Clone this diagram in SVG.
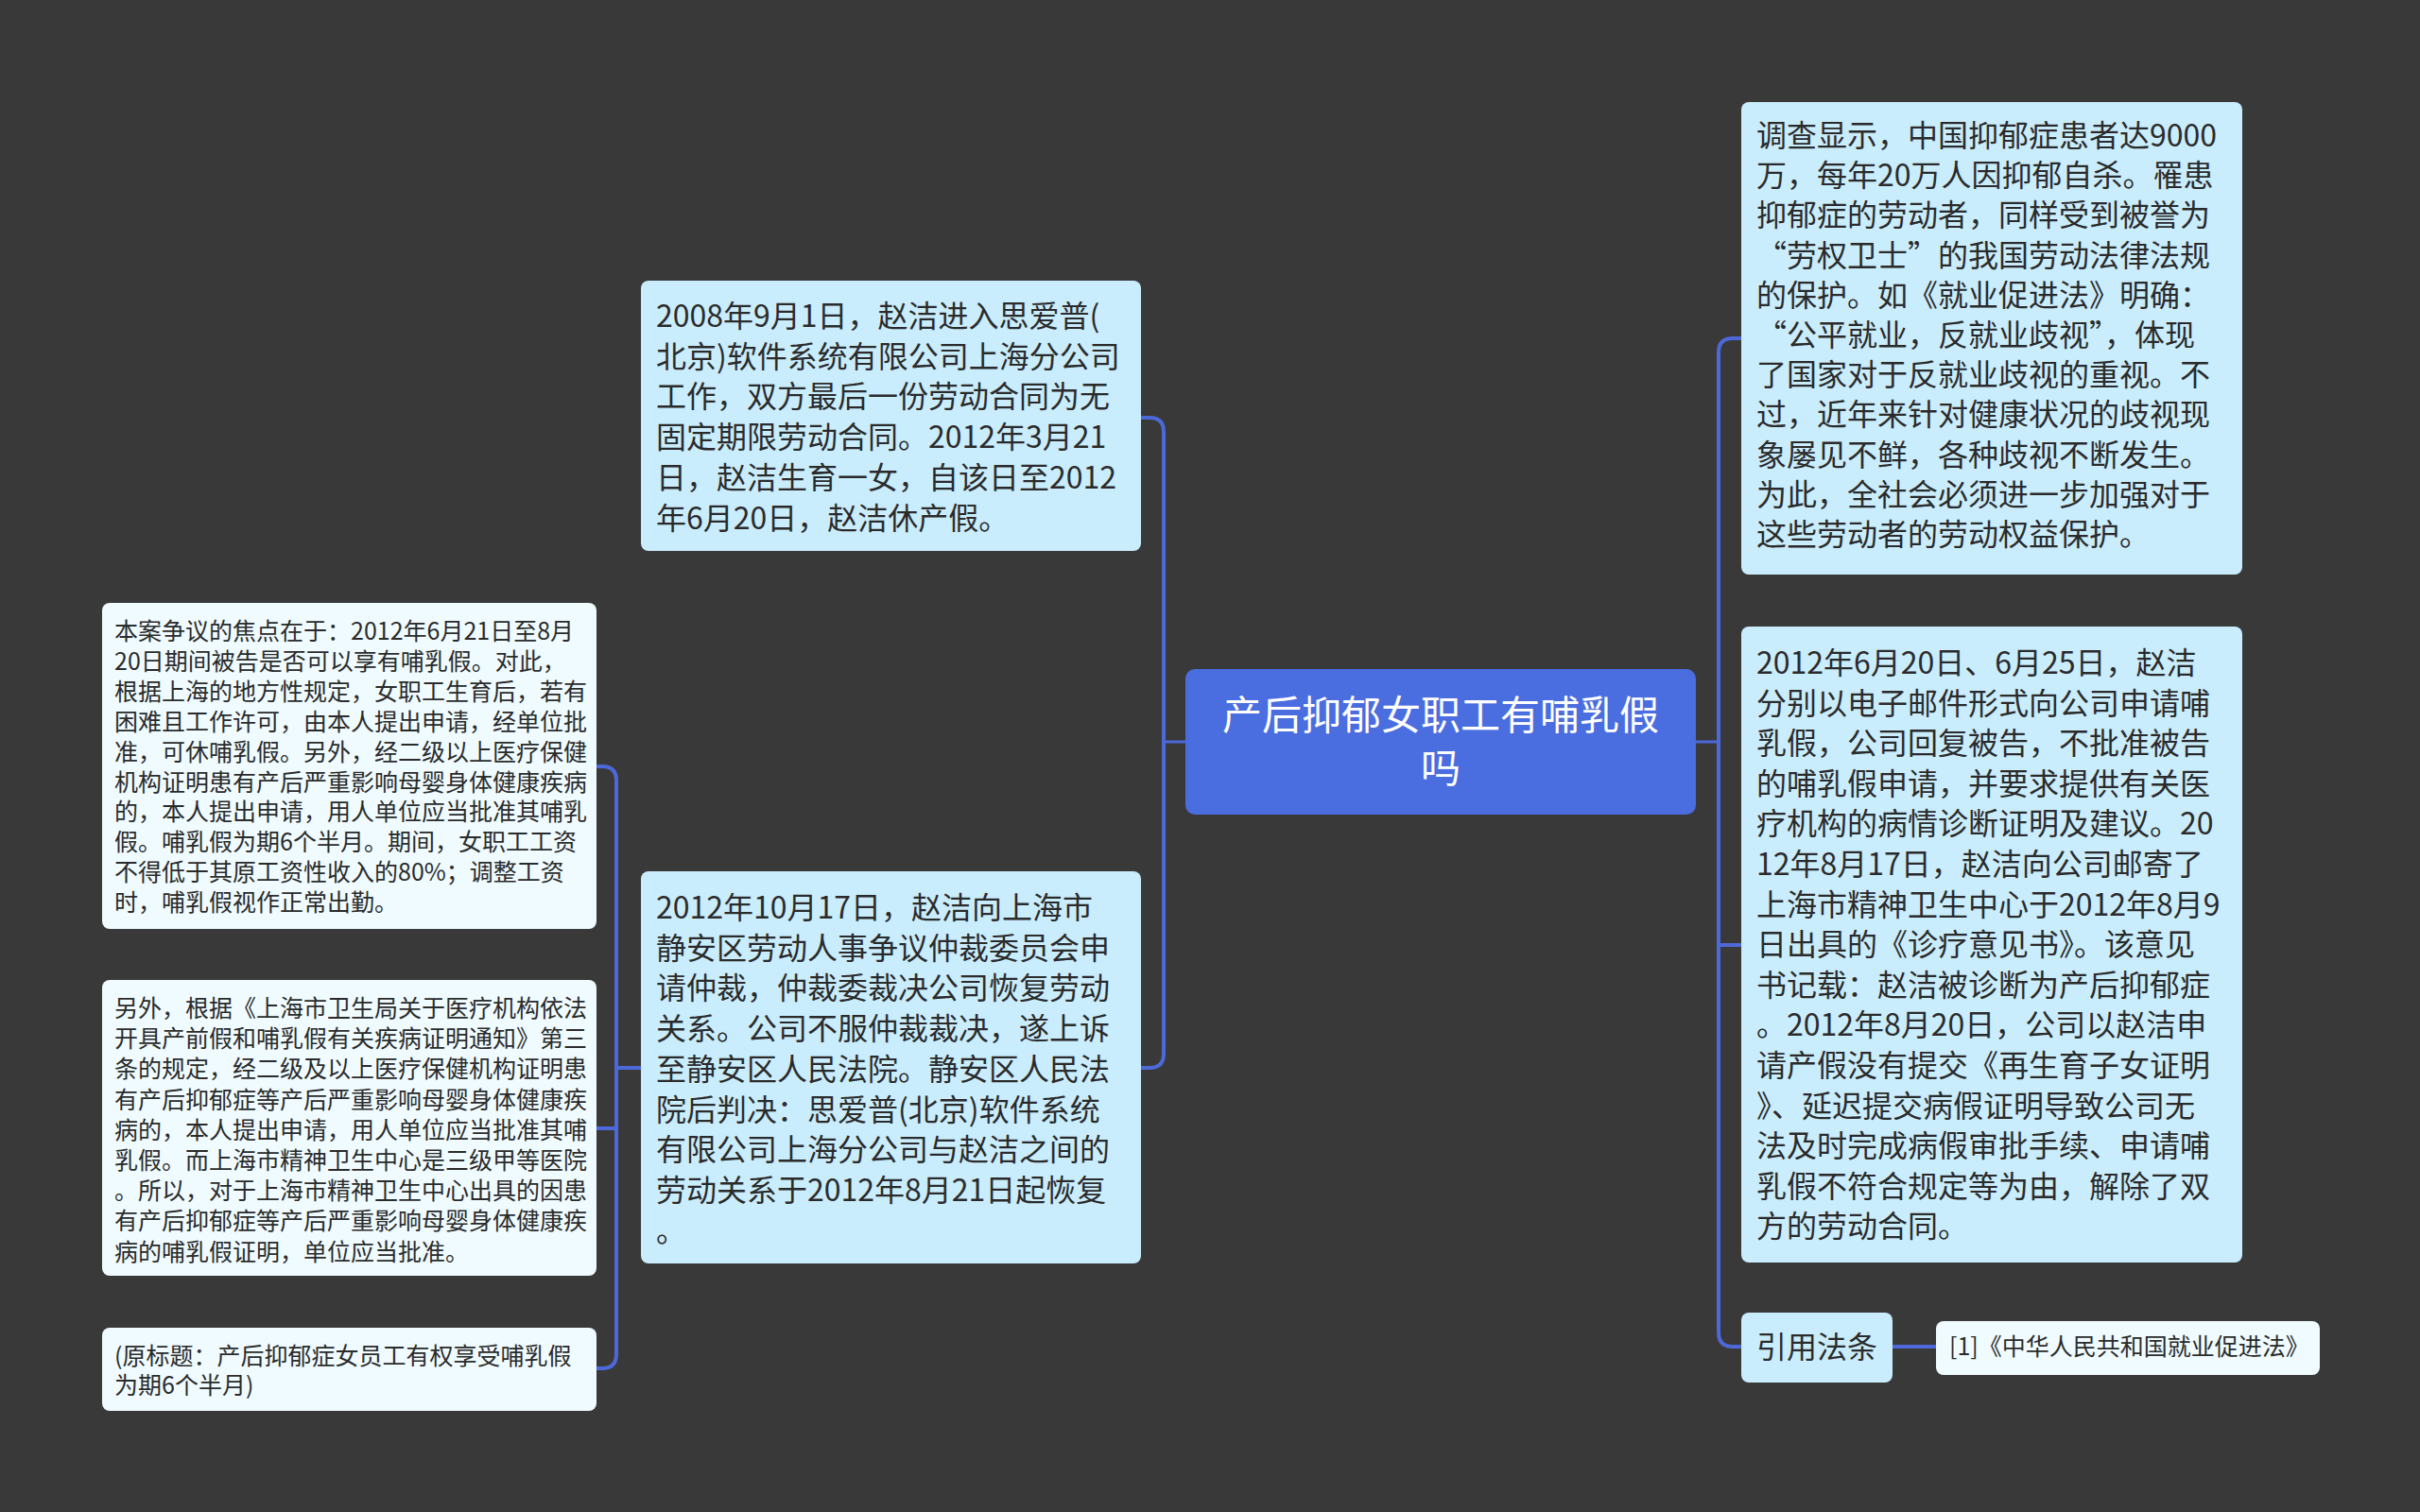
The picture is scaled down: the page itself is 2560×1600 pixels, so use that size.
<svg xmlns="http://www.w3.org/2000/svg" width="2560" height="1600" viewBox="0 0 2560 1600">
<style>
.t{font-family:"Noto Sans CJK SC","Noto Sans",sans-serif;fill:#2b2b2b}
.m{font-size:32px}
.s{font-size:25px}
.box{fill:#c9edfd}
.box2{fill:#effbff}
.conn{fill:none;stroke:#4d68d8;stroke-width:4;stroke-linecap:round}
</style>
<rect x="0" y="0" width="2560" height="1600" fill="#3a3939"/>
<g id="connectors">
<path class="conn" d="M1207,442 H1216 Q1231,442 1231,457 V1115 Q1231,1130 1216,1130 H1207"/>
<path class="conn" d="M1231,785 H1254" style="stroke-width:3"/>
<path class="conn" d="M678,1130 H652"/>
<path class="conn" d="M631,811 H637 Q652,811 652,826 V1433 Q652,1448 637,1448 H631"/>
<path class="conn" d="M631,1194 H652"/>
<path class="conn" d="M1842,358 H1833 Q1818,358 1818,373 V1410 Q1818,1425 1833,1425 H1842"/>
<path class="conn" d="M1818,1000 H1842"/>
<path class="conn" d="M1794,785 H1818" style="stroke-width:3"/>
<path class="conn" d="M2002,1425 H2048"/>
</g>
<g id="center">
<rect x="1254" y="708" width="540" height="154" rx="10" fill="#4a6ddf"/>
<text x="1524" y="772" text-anchor="middle" style="font-family:'Noto Sans CJK SC',sans-serif;font-size:42px;fill:#ffffff">产后抑郁女职工有哺乳假</text>
<text x="1524" y="828" text-anchor="middle" style="font-family:'Noto Sans CJK SC',sans-serif;font-size:42px;fill:#ffffff">吗</text>
</g>
<g id="node-l1">
<rect class="box" x="678" y="297" width="529" height="286" rx="8"/>
<text class="t m" x="694">
<tspan x="694" y="346">2008年9月1日，赵洁进入思爱普(</tspan>
<tspan x="694" y="388.7">北京)软件系统有限公司上海分公司</tspan>
<tspan x="694" y="431.4">工作，双方最后一份劳动合同为无</tspan>
<tspan x="694" y="474.1">固定期限劳动合同。2012年3月21</tspan>
<tspan x="694" y="516.8">日，赵洁生育一女，自该日至2012</tspan>
<tspan x="694" y="559.5">年6月20日，赵洁休产假。</tspan>
</text>
</g>
<g id="node-l2">
<rect class="box" x="678" y="922" width="529" height="415" rx="8"/>
<text class="t m" x="694">
<tspan x="694" y="972">2012年10月17日，赵洁向上海市</tspan>
<tspan x="694" y="1014.7">静安区劳动人事争议仲裁委员会申</tspan>
<tspan x="694" y="1057.4">请仲裁，仲裁委裁决公司恢复劳动</tspan>
<tspan x="694" y="1100.1">关系。公司不服仲裁裁决，遂上诉</tspan>
<tspan x="694" y="1142.8">至静安区人民法院。静安区人民法</tspan>
<tspan x="694" y="1185.5">院后判决：思爱普(北京)软件系统</tspan>
<tspan x="694" y="1228.2">有限公司上海分公司与赵洁之间的</tspan>
<tspan x="694" y="1270.9">劳动关系于2012年8月21日起恢复</tspan>
<tspan x="694" y="1313.6">。</tspan>
</text>
</g>
<g id="node-a">
<rect class="box2" x="108" y="638" width="523" height="345" rx="8"/>
<text class="t s" x="121">
<tspan x="121" y="677">本案争议的焦点在于：2012年6月21日至8月</tspan>
<tspan x="121" y="708.9">20日期间被告是否可以享有哺乳假。对此，</tspan>
<tspan x="121" y="740.8">根据上海的地方性规定，女职工生育后，若有</tspan>
<tspan x="121" y="772.7">困难且工作许可，由本人提出申请，经单位批</tspan>
<tspan x="121" y="804.6">准，可休哺乳假。另外，经二级以上医疗保健</tspan>
<tspan x="121" y="836.5">机构证明患有产后严重影响母婴身体健康疾病</tspan>
<tspan x="121" y="868.4">的，本人提出申请，用人单位应当批准其哺乳</tspan>
<tspan x="121" y="900.3">假。哺乳假为期6个半月。期间，女职工工资</tspan>
<tspan x="121" y="932.2">不得低于其原工资性收入的80%；调整工资</tspan>
<tspan x="121" y="964.1">时，哺乳假视作正常出勤。</tspan>
</text>
</g>
<g id="node-b">
<rect class="box2" x="108" y="1037" width="523" height="313" rx="8"/>
<text class="t s" x="121">
<tspan x="121" y="1076">另外，根据《上海市卫生局关于医疗机构依法</tspan>
<tspan x="121" y="1108.2">开具产前假和哺乳假有关疾病证明通知》第三</tspan>
<tspan x="121" y="1140.4">条的规定，经二级及以上医疗保健机构证明患</tspan>
<tspan x="121" y="1172.6">有产后抑郁症等产后严重影响母婴身体健康疾</tspan>
<tspan x="121" y="1204.8">病的，本人提出申请，用人单位应当批准其哺</tspan>
<tspan x="121" y="1237">乳假。而上海市精神卫生中心是三级甲等医院</tspan>
<tspan x="121" y="1269.2">。所以，对于上海市精神卫生中心出具的因患</tspan>
<tspan x="121" y="1301.4">有产后抑郁症等产后严重影响母婴身体健康疾</tspan>
<tspan x="121" y="1333.6">病的哺乳假证明，单位应当批准。</tspan>
</text>
</g>
<g id="node-c">
<rect class="box2" x="108" y="1405" width="523" height="88" rx="8"/>
<text class="t s" x="121">
<tspan x="121" y="1444">(原标题：产后抑郁症女员工有权享受哺乳假</tspan>
<tspan x="121" y="1475">为期6个半月)</tspan>
</text>
</g>
<g id="node-r1">
<rect class="box" x="1842" y="108" width="530" height="500" rx="8"/>
<text class="t m" x="1858">
<tspan x="1858" y="155">调查显示，中国抑郁症患者达9000</tspan>
<tspan x="1858" y="197.2">万，每年20万人因抑郁自杀。罹患</tspan>
<tspan x="1858" y="239.4">抑郁症的劳动者，同样受到被誉为</tspan>
<tspan x="1858" y="281.6">“劳权卫士”的我国劳动法律法规</tspan>
<tspan x="1858" y="323.8">的保护。如《就业促进法》明确：</tspan>
<tspan x="1858" y="366">“公平就业，反就业歧视”，体现</tspan>
<tspan x="1858" y="408.2">了国家对于反就业歧视的重视。不</tspan>
<tspan x="1858" y="450.4">过，近年来针对健康状况的歧视现</tspan>
<tspan x="1858" y="492.6">象屡见不鲜，各种歧视不断发生。</tspan>
<tspan x="1858" y="534.8">为此，全社会必须进一步加强对于</tspan>
<tspan x="1858" y="577">这些劳动者的劳动权益保护。</tspan>
</text>
</g>
<g id="node-r2">
<rect class="box" x="1842" y="663" width="530" height="673" rx="8"/>
<text class="t m" x="1858">
<tspan x="1858" y="713">2012年6月20日、6月25日，赵洁</tspan>
<tspan x="1858" y="755.6">分别以电子邮件形式向公司申请哺</tspan>
<tspan x="1858" y="798.2">乳假，公司回复被告，不批准被告</tspan>
<tspan x="1858" y="840.8">的哺乳假申请，并要求提供有关医</tspan>
<tspan x="1858" y="883.4">疗机构的病情诊断证明及建议。20</tspan>
<tspan x="1858" y="926">12年8月17日，赵洁向公司邮寄了</tspan>
<tspan x="1858" y="968.6">上海市精神卫生中心于2012年8月9</tspan>
<tspan x="1858" y="1011.2">日出具的《诊疗意见书》。该意见</tspan>
<tspan x="1858" y="1053.8">书记载：赵洁被诊断为产后抑郁症</tspan>
<tspan x="1858" y="1096.4">。2012年8月20日，公司以赵洁申</tspan>
<tspan x="1858" y="1139">请产假没有提交《再生育子女证明</tspan>
<tspan x="1858" y="1181.6">》、延迟提交病假证明导致公司无</tspan>
<tspan x="1858" y="1224.2">法及时完成病假审批手续、申请哺</tspan>
<tspan x="1858" y="1266.8">乳假不符合规定等为由，解除了双</tspan>
<tspan x="1858" y="1309.4">方的劳动合同。</tspan>
</text>
</g>
<g id="node-law">
<rect class="box" x="1842" y="1389" width="160" height="74" rx="8"/>
<text class="t m" x="1922" y="1437" text-anchor="middle">引用法条</text>
</g>
<g id="node-law1">
<rect class="box2" x="2048" y="1398" width="406" height="57" rx="8"/>
<text class="t s" x="2062" y="1434">[1]《中华人民共和国就业促进法》</text>
</g>
</svg>
